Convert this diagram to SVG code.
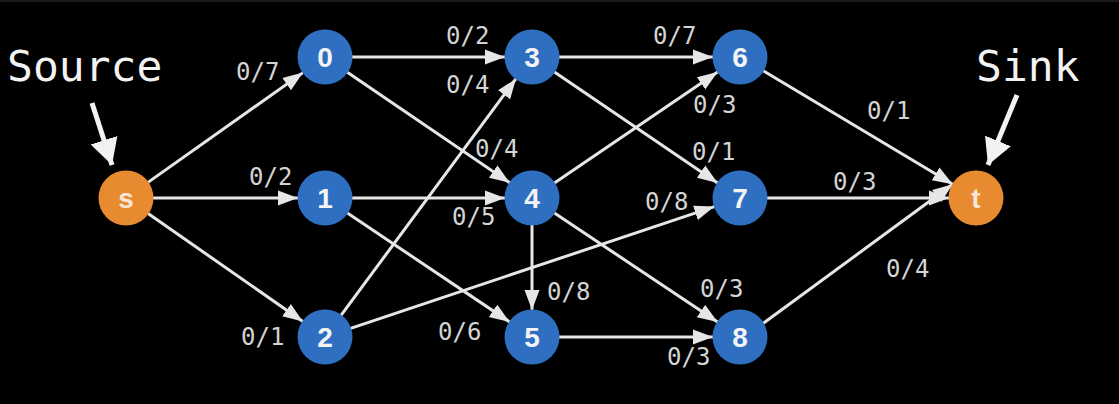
<svg xmlns="http://www.w3.org/2000/svg" width="1119" height="404" viewBox="0 0 1119 404">
<style>
.bg{fill:#000}
.edge{stroke:#e6e6e6;stroke-width:3;fill:none}
.blue{fill:#2e6fc1}
.orange{fill:#e88a30}
.nl{font-family:"Liberation Sans",Arial,sans-serif;font-weight:bold;font-size:28px;fill:#f4f4f4;text-anchor:middle}
.ol{font-family:"Liberation Sans",Arial,sans-serif;font-weight:bold;font-size:28px;fill:#f6e6d6;text-anchor:middle}
.lbl{font-family:"DejaVu Sans Mono",monospace;font-size:24px;fill:#d4d4d4}
.big{font-family:"DejaVu Sans Mono",monospace;font-size:43px;fill:#f2f2f2}
.call{stroke:#f2f2f2;stroke-width:5;fill:none}
</style>
<defs>
<marker id="ah" markerUnits="userSpaceOnUse" markerWidth="22" markerHeight="18" viewBox="0 0 22 18" refX="20" refY="9" orient="auto">
<path d="M0,1.5 L20,9 L0,16.5 Z" fill="#e6e6e6"/>
</marker>
<marker id="bh" markerUnits="userSpaceOnUse" markerWidth="28" markerHeight="30" viewBox="0 0 28 30" refX="26" refY="15" orient="auto">
<path d="M0,1 L26,15 L0,29 Z" fill="#f2f2f2"/>
</marker>
</defs>
<rect class="bg" x="0" y="0" width="1119" height="404"/>
<rect x="0" y="0" width="1119" height="2" fill="#1a1a1a"/>
<g id="connectors">
<line class="edge" x1="148" y1="182.4" x2="303" y2="72.6" marker-end="url(#ah)"/>
<line class="edge" x1="153" y1="198" x2="298" y2="198" marker-end="url(#ah)"/>
<line class="edge" x1="148.1" y1="213.5" x2="302.9" y2="321.5" marker-end="url(#ah)"/>
<line class="edge" x1="352" y1="57" x2="505" y2="57" marker-end="url(#ah)"/>
<line class="edge" x1="347.3" y1="72.2" x2="509.7" y2="182.8" marker-end="url(#ah)"/>
<line class="edge" x1="352" y1="198" x2="505" y2="198" marker-end="url(#ah)"/>
<line class="edge" x1="347.4" y1="213.1" x2="509.6" y2="321.9" marker-end="url(#ah)"/>
<line class="edge" x1="341" y1="315.3" x2="516" y2="78.7" marker-end="url(#ah)"/>
<line class="edge" x1="350.6" y1="328.4" x2="714.4" y2="206.6" marker-end="url(#ah)"/>
<line class="edge" x1="559" y1="57" x2="713" y2="57" marker-end="url(#ah)"/>
<line class="edge" x1="554.4" y1="72.1" x2="717.6" y2="182.9" marker-end="url(#ah)"/>
<line class="edge" x1="554.4" y1="182.9" x2="717.6" y2="72.1" marker-end="url(#ah)"/>
<line class="edge" x1="532" y1="225" x2="532" y2="310" marker-end="url(#ah)"/>
<line class="edge" x1="554.4" y1="213" x2="717.6" y2="322" marker-end="url(#ah)"/>
<line class="edge" x1="559" y1="337" x2="713" y2="337" marker-end="url(#ah)"/>
<line class="edge" x1="763.2" y1="70.8" x2="952.8" y2="184.2" marker-end="url(#ah)"/>
<line class="edge" x1="767" y1="198" x2="949" y2="198" marker-end="url(#ah)"/>
<line class="edge" x1="763.3" y1="323.3" x2="952.7" y2="184.3" marker-end="url(#ah)"/>
</g>
<g id="edge-labels">
<text class="lbl" x="236" y="80">0/7</text>
<text class="lbl" x="249" y="185">0/2</text>
<text class="lbl" x="241" y="345">0/1</text>
<text class="lbl" x="446" y="44">0/2</text>
<text class="lbl" x="446" y="93">0/4</text>
<text class="lbl" x="475" y="157">0/4</text>
<text class="lbl" x="452" y="225">0/5</text>
<text class="lbl" x="438" y="340">0/6</text>
<text class="lbl" x="653" y="44">0/7</text>
<text class="lbl" x="693" y="113">0/3</text>
<text class="lbl" x="692" y="160">0/1</text>
<text class="lbl" x="645" y="210">0/8</text>
<text class="lbl" x="547" y="300">0/8</text>
<text class="lbl" x="700" y="297">0/3</text>
<text class="lbl" x="667" y="365">0/3</text>
<text class="lbl" x="867" y="119">0/1</text>
<text class="lbl" x="833" y="190">0/3</text>
<text class="lbl" x="886" y="277">0/4</text>
</g>
<g id="source-label">
<text class="big" x="7" y="81">Source</text>
<line class="call" x1="92" y1="103" x2="112" y2="165" marker-end="url(#bh)"/>
</g>
<g id="sink-label">
<text class="big" x="976" y="81">Sink</text>
<line class="call" x1="1017" y1="95" x2="988" y2="165" marker-end="url(#bh)"/>
</g>
<g id="node-s"><circle class="orange" cx="126" cy="198" r="27.5"/><text class="ol" x="126" y="208">s</text></g>
<g id="node-0"><circle class="blue" cx="325" cy="57" r="27.5"/><text class="nl" x="325" y="67">0</text></g>
<g id="node-1"><circle class="blue" cx="325" cy="198" r="27.5"/><text class="nl" x="325" y="208">1</text></g>
<g id="node-2"><circle class="blue" cx="325" cy="337" r="27.5"/><text class="nl" x="325" y="347">2</text></g>
<g id="node-3"><circle class="blue" cx="532" cy="57" r="27.5"/><text class="nl" x="532" y="67">3</text></g>
<g id="node-4"><circle class="blue" cx="532" cy="198" r="27.5"/><text class="nl" x="532" y="208">4</text></g>
<g id="node-5"><circle class="blue" cx="532" cy="337" r="27.5"/><text class="nl" x="532" y="347">5</text></g>
<g id="node-6"><circle class="blue" cx="740" cy="57" r="27.5"/><text class="nl" x="740" y="67">6</text></g>
<g id="node-7"><circle class="blue" cx="740" cy="198" r="27.5"/><text class="nl" x="740" y="208">7</text></g>
<g id="node-8"><circle class="blue" cx="740" cy="337" r="27.5"/><text class="nl" x="740" y="347">8</text></g>
<g id="node-t"><circle class="orange" cx="976" cy="198" r="27.5"/><text class="ol" x="976" y="208">t</text></g>
</svg>
